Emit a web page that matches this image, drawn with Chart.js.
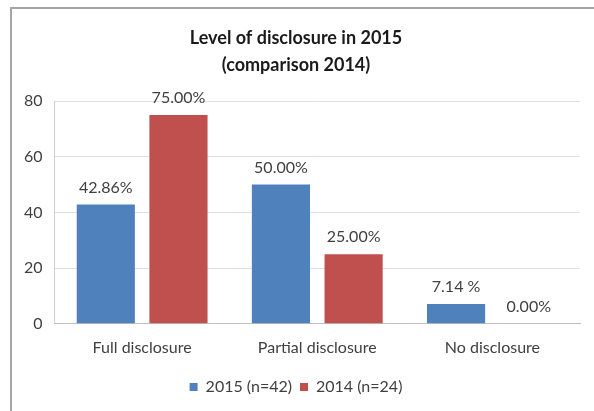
<!DOCTYPE html>
<html>
<head>
<meta charset="utf-8">
<script src="https://cdn.jsdelivr.net/npm/chart.js@4"></script>
<style>
    html, body { margin: 0; padding: 0; background: #fff; }
    #wrap { position: relative; width: 594px; height: 411px; }
    #frame {
        position: absolute; left: 10px; top: 7px; right: 0; bottom: 0;
        border-top: 2px solid #a6a6a6; border-left: 2px solid #a6a6a6;
        pointer-events: none;
    }
</style>
</head>
<body>
<div id="wrap">
    <canvas id="disclosureChart" width="594" height="411"></canvas>
    <div id="frame"></div>
</div>
<script>
const categories = ['Full disclosure', 'Partial disclosure', 'No disclosure'];
const values2015 = [42.86, 50.00, 7.14];
const values2014 = [75.00, 25.00, 0.00];
const labels2015 = ['42.86%', '50.00%', '7.14 %'];
const labels2014 = ['75.00%', '25.00%', '0.00%'];
const yTicks = [0, 20, 40, 60, 80];

const FONT = 'Lato, "Liberation Sans", sans-serif';

// writes the percentage text above each bar
const barLabels = {
    id: 'barLabels',
    afterDatasetsDraw(chart) {
        const ctx = chart.ctx;
        ctx.save();
        ctx.font = '16px ' + FONT;
        ctx.fillStyle = '#404040';
        ctx.textAlign = 'center';
        ctx.textBaseline = 'middle';
        chart.data.datasets.forEach((ds, i) => {
            chart.getDatasetMeta(i).data.forEach((bar, j) => {
                ctx.fillText(ds.valueLabels[j], bar.x, bar.y - 17);
            });
        });
        ctx.restore();
    }
};

new Chart(document.getElementById('disclosureChart'), {
    type: 'bar',
    data: {
        labels: categories,
        datasets: [
            {
                label: '2015 (n=42)',
                data: values2015,
                valueLabels: labels2015,
                backgroundColor: '#4f81bd',
                categoryPercentage: 0.83,
                barPercentage: 0.8
            },
            {
                label: '2014 (n=24)',
                data: values2014,
                valueLabels: labels2014,
                backgroundColor: '#c0504d',
                categoryPercentage: 0.83,
                barPercentage: 0.8
            }
        ]
    },
    options: {
        responsive: false,
        animation: false,
        layout: { padding: { left: 12, right: 14, top: 25, bottom: 6 } },
        scales: {
            x: {
                grid: { display: false, drawTicks: false },
                border: { color: '#bfbfbf', width: 1 },
                ticks: { color: '#404040', font: { family: FONT, size: 16 }, padding: 14 }
            },
            y: {
                min: 0,
                max: 80,
                afterBuildTicks: (axis) => { axis.ticks = yTicks.map(v => ({ value: v })); },
                grid: { color: '#e0e0e0', drawTicks: false },
                border: { color: '#d0d0d0', width: 1 },
                ticks: { color: '#404040', font: { family: FONT, size: 16 }, padding: 12 }
            }
        },
        plugins: {
            title: {
                display: true,
                text: ['Level of disclosure in 2015', '(comparison 2014)'],
                color: '#1a1a1a',
                font: { family: FONT, size: 18, weight: 'bold', lineHeight: 1.5 },
                padding: { top: 0, bottom: 22 }
            },
            legend: {
                position: 'bottom',
                labels: {
                    color: '#404040',
                    font: { family: FONT, size: 16 },
                    boxWidth: 8,
                    boxHeight: 8,
                    padding: 8
                }
            },
            tooltip: { enabled: false }
        }
    },
    plugins: [barLabels]
});
</script>
</body>
</html>
